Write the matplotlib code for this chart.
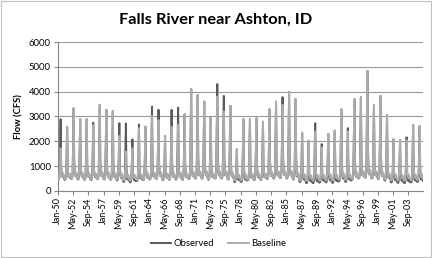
import numpy as np
import matplotlib
matplotlib.use("Agg")
import matplotlib.pyplot as plt
from matplotlib.patches import Rectangle

plt.rcParams['font.family'] = ['Lato', 'DejaVu Sans']

# water years 1950-2005, monthly series built from annual peaks and winter lows
years = list(range(1950, 2006))

obs_peak = [2890, 2590, 3330, 2900, 2890, 2750, 3470, 3270, 3225, 2730,
            2720, 2080, 2680, 2590, 3400, 3270, 2220, 3270, 3360, 3100,
            4100, 3870, 3600, 2970, 4310, 3830, 3430, 1680, 2890, 2890,
            2930, 2790, 3290, 3600, 3780, 3990, 3700, 2350, 2020, 2730,
            1890, 2300, 2430, 3290, 2530, 3700, 3780, 4840, 3470, 3830,
            3060, 2080, 2050, 2160, 2660, 2620]

base_peak = [1720, 2590, 3330, 2900, 2890, 2650, 3470, 3270, 3225, 2220,
             1590, 1720, 2530, 2590, 3020, 2860, 2220, 2590, 2660, 3100,
             4100, 3870, 3600, 2970, 3800, 3200, 3430, 1680, 2890, 2890,
             2930, 2790, 3290, 3600, 3470, 3990, 3700, 2350, 2020, 2390,
             1760, 2300, 2430, 3290, 2390, 3700, 3780, 4840, 3470, 3830,
             3060, 2080, 2050, 2050, 2660, 2620]

obs_low = [470, 460, 500, 480, 470, 460, 500, 480, 470, 440,
           380, 360, 420, 450, 480, 500, 450, 470, 480, 470,
           500, 520, 520, 470, 520, 520, 480, 370, 380, 450,
           460, 460, 500, 520, 540, 520, 480, 380, 330, 330,
           350, 360, 340, 420, 380, 480, 520, 560, 520, 500,
           440, 360, 340, 330, 360, 380]

base_low = [480, 470, 510, 490, 480, 470, 510, 490, 480, 470,
            440, 430, 460, 470, 490, 510, 470, 480, 490, 480,
            510, 530, 530, 480, 530, 530, 490, 430, 440, 470,
            480, 470, 510, 530, 550, 530, 500, 450, 420, 430,
            430, 440, 430, 470, 450, 500, 530, 570, 530, 510,
            480, 440, 430, 430, 440, 450]

# typical monthly pattern Jan..Dec: multiples of winter low, except May-Jul (fraction of peak)
low_shape = [1.0, 0.95, 1.0, 1.4, None, None, None, 1.5, 1.2, 1.5, 1.4, 1.1]
peak_shape = {4: 0.55, 5: 1.0, 6: 0.35}

tick_labels = ["Jan-50", "May-52", "Sep-54", "Jan-57", "May-59", "Sep-61", "Jan-64",
               "May-66", "Sep-68", "Jan-71", "May-73", "Sep-75", "Jan-78", "May-80",
               "Sep-82", "Jan-85", "May-87", "Sep-89", "Jan-92", "May-94", "Sep-96",
               "Jan-99", "May-01", "Sep-03"]


def monthly(peaks, lows):
    vals = []
    for p, l in zip(peaks, lows):
        for m in range(12):
            if m in peak_shape:
                vals.append(max(peak_shape[m] * p, l))
            else:
                vals.append(low_shape[m] * l)
    return np.array(vals)


observed = monthly(obs_peak, obs_low)
baseline = monthly(base_peak, base_low)
months = np.arange(len(observed))

fig = plt.figure(figsize=(4.32, 2.58), dpi=100)
ax = fig.add_axes([0.134, 0.26, 0.845, 0.577])

ax.plot(months, observed, color='#5a5a5a', lw=1.4, label='Observed', zorder=2)
ax.plot(months, baseline, color='#ababab', lw=1.4, label='Baseline', zorder=3)

ax.set_ylim(0, 6000)
ax.set_yticks(np.arange(0, 6001, 1000))
ax.set_xlim(0, len(months) - 1)
ax.set_xticks(np.arange(0, 28 * len(tick_labels), 28))
ax.set_xticklabels(tick_labels, rotation=90, fontsize=6.5)
ax.tick_params(axis='y', labelsize=6.8, length=3, color='#868686', pad=2)
ax.tick_params(axis='x', length=3, color='#868686', pad=1.5)

ax.grid(axis='y', color='#9a9a9a', lw=0.8)
ax.set_axisbelow(True)
for s in ['top', 'right']:
    ax.spines[s].set_visible(False)
for s in ['left', 'bottom']:
    ax.spines[s].set_color('#868686')
    ax.spines[s].set_linewidth(0.8)

ax.set_ylabel("Flow (CFS)", fontsize=6.8, fontweight='bold', labelpad=4)
fig.text(0.5, 0.925, "Falls River near Ashton, ID", ha='center', va='center',
         fontsize=11.8, fontweight='bold')

fig.legend(loc='center', bbox_to_anchor=(0.505, 0.055), ncol=2, frameon=False,
           fontsize=6.8, handlelength=2.2, columnspacing=1.5, handletextpad=0.2)

fig.patches.append(Rectangle((0.002, 0.003), 0.995, 0.993, transform=fig.transFigure,
                             fill=False, edgecolor='#bfbfbf', lw=0.8))

fig.savefig("out.png", dpi=100)
